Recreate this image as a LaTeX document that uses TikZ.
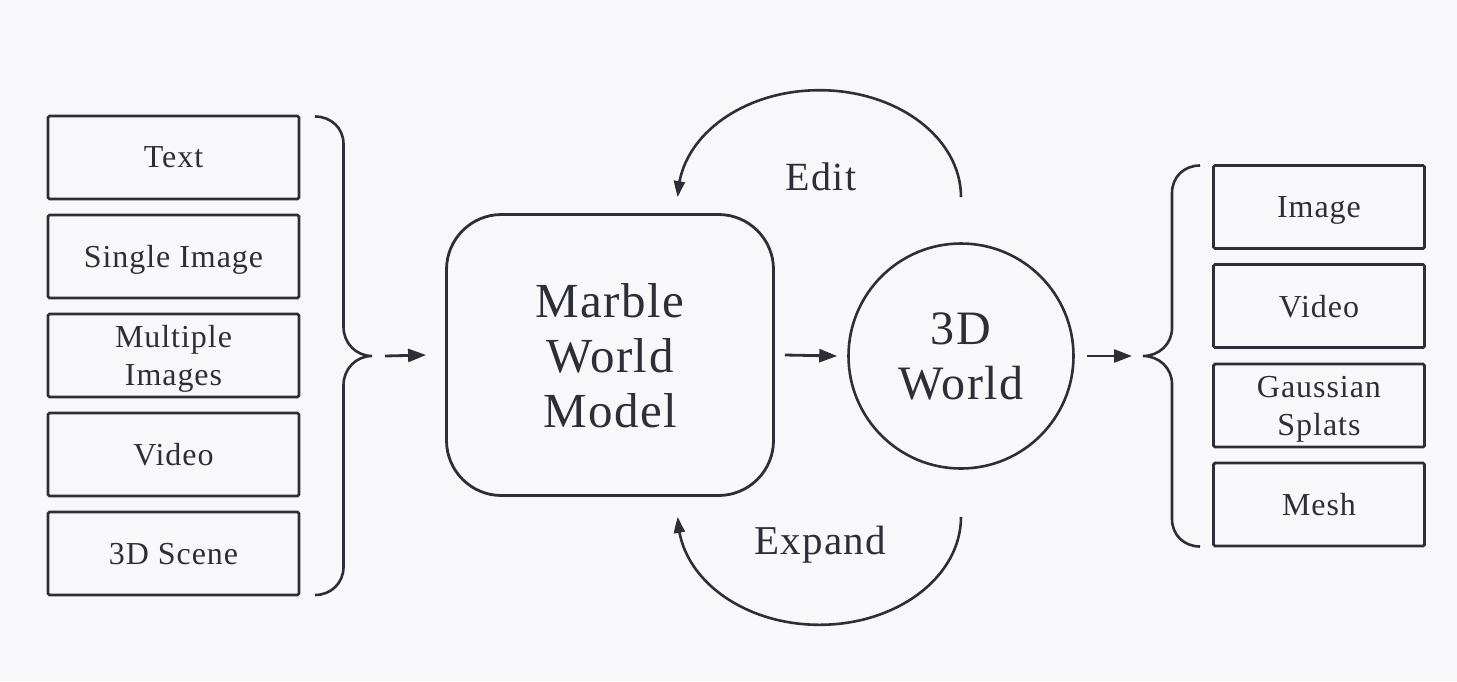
\documentclass[tikz,border=0pt]{standalone}
\usepackage{fontspec}
\setmainfont[LetterSpace=3]{Liberation Serif}
\usetikzlibrary{arrows.meta,bending}
\definecolor{ink}{HTML}{2E2E38}
\definecolor{bg}{HTML}{F8F8FA}
\tikzset{
  item/.style={draw=ink, line width=2.8pt, rounded corners=1.5pt, minimum width=251pt, minimum height=83pt, inner sep=0pt, text=ink, align=center, text depth=0pt, font=\fontsize{32}{38}\selectfont},
  ritem/.style={item, minimum width=211pt},
  brace/.style={draw=ink, line width=2.6pt},
  arr/.style={draw=ink, line width=2.8pt, -{Triangle[length=18pt,width=13pt]}},
  carr/.style={draw=ink, line width=2.6pt, -{Triangle[length=16pt,width=11pt,bend]}},
  lab/.style={text=ink, anchor=base, inner sep=0pt},
}
\begin{document}
\begin{tikzpicture}[x=1pt,y=-1pt]
\fill[bg] (0,0) rectangle (1457,681);
\useasboundingbox (0,0) rectangle (1457,681);
% left inputs
\node[item] (t1) at (173.5,157.5) {Text};
\node[item] (t2) at (173.5,256.5) {Single Image};
\node[item] (t3) at (173.5,355.5) {Multiple\\Images};
\node[item] (t4) at (173.5,454.5) {Video};
\node[item] (t5) at (173.5,553.5) {3D Scene};
% left brace
\coordinate (lbt) at (372,356);
\draw[brace] (315,116.5) .. controls (331,116.5) and (343.5,128) .. (343.5,144)
  -- (343.5,327) .. controls (343.5,343) and (356,356) .. (lbt)
  .. controls (356,356) and (343.5,369) .. (343.5,385)
  -- (343.5,567) .. controls (343.5,583) and (331,595) .. (315,595);
% model
\node[draw=ink, line width=2.8pt, rounded corners=55pt, minimum width=327pt, minimum height=281pt, inner sep=0pt, text=ink, align=center, text depth=0pt, font=\fontsize{49}{55}\selectfont] (m) at (610,355) {Marble\\World\\Model};
% world
\node[draw=ink, line width=2.6pt, circle, minimum size=225pt, inner sep=0pt, text=ink, align=center, text depth=0pt, font=\fontsize{48}{55}\selectfont] (w) at (961,356) {3D\\World};
% right brace
\coordinate (rbt) at (1143,356);
\draw[brace] (1200,165.5) .. controls (1184,165.5) and (1172,177) .. (1172,193)
  -- (1172,328) .. controls (1172,344) and (1159,356) .. (rbt)
  .. controls (1159,356) and (1172,368) .. (1172,384)
  -- (1172,519) .. controls (1172,535) and (1184,546.5) .. (1200,546.5);
% right outputs
\node[ritem] (o1) at (1319,207) {Image};
\node[ritem] (o2) at (1319,306) {Video};
\node[ritem] (o3) at (1319,405.5) {Gaussian\\Splats};
\node[ritem] (o4) at (1319,504.5) {Mesh};
% arrows
\draw[arr] ([xshift=13pt]lbt) -- ([xshift=-19pt]m.west);
\draw[arr] ([xshift=10pt]m.east) -- ([xshift=-10pt]w.west);
\draw[arr] ([xshift=12pt]w.east) -- ([xshift=-11pt]rbt);
% loops
\draw[carr] ([yshift=45pt]w.north) arc[start angle=0, end angle=-180, x radius=141.5, y radius=107];
\draw[carr] ([yshift=-47pt]w.south) arc[start angle=0, end angle=180, x radius=141.5, y radius=108];
\node[lab, font=\fontsize{40}{48}\selectfont] (edit) at (821,190) {Edit};
\node[lab, font=\fontsize{41}{48}\selectfont] (expand) at (820,554) {Expand};
\end{tikzpicture}
\end{document}
